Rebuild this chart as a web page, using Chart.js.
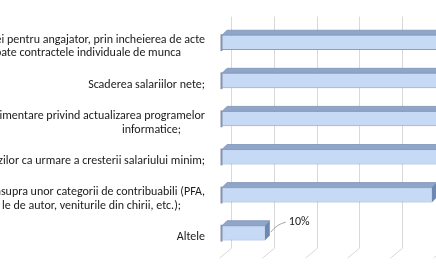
<!DOCTYPE html>
<html>
<head>
<meta charset="utf-8">
<style>
  html, body { margin: 0; padding: 0; background: #fff; overflow: hidden; }
  canvas { display: block; }
</style>
</head>
<body>
<script src="https://cdn.jsdelivr.net/npm/chart.js@4.4.0/dist/chart.umd.min.js"></script>
<canvas id="chart" width="436" height="271"></canvas>
<script>
// category labels (the left part is cut off in the original picture)
const categories = [
    ["ei pentru angajator, prin incheierea de acte", "pate contractele individuale de munca"],
    ["Scaderea salariilor nete;"],
    ["imentare privind actualizarea programelor", "informatice;"],
    ["zilor ca urmare a cresterii salariului minim;"],
    ["asupra unor categorii de contribuabili (PFA,", "le de autor, veniturile din chirii, etc.);"],
    ["Altele"]
];
// percent of answers; the first four run past the right edge, so they are guesses
const values = [72, 68, 57, 61, 49, 10];
const xTicks = [0, 10, 20, 30, 40, 50];

const FONT = "Carlito, Lato, 'Liberation Sans', sans-serif";
const DEPTH = 5;      // bar depth
const WALL = 9;       // depth of the back wall

var ctx = document.getElementById("chart").getContext("2d");

function faceGradient(context) {
    var el = context.element;
    var c = context.chart.ctx;
    if (!el || el.y === undefined) return "#c6d9f5";
    var h = el.height || 15;
    var g = c.createLinearGradient(0, el.y - h / 2, 0, el.y + h / 2);
    g.addColorStop(0, "#e9f1fd");
    g.addColorStop(0.5, "#cddff8");
    g.addColorStop(1, "#a9c4ee");
    return g;
}

// back wall grid + floor lines
const gridPlugin = {
    id: "grid3d",
    beforeDatasetsDraw(chart) {
        var c = chart.ctx, xs = chart.scales.x, area = chart.chartArea;
        c.save();
        c.strokeStyle = "#d9d9d9";
        c.lineWidth = 1;
        xTicks.forEach(function(v) {
            var x = Math.round(xs.getPixelForValue(v) + WALL) + 0.5;
            c.beginPath();
            c.moveTo(x, area.top - 7);
            c.lineTo(x, area.bottom - 4);
            c.lineTo(x - 12, area.bottom + 6);
            c.stroke();
        });
        c.restore();
    }
};

// top face, end face and the data label of each bar
const barPlugin = {
    id: "bar3d",
    afterDatasetsDraw(chart) {
        var c = chart.ctx;
        var meta = chart.getDatasetMeta(0);
        c.save();
        meta.data.forEach(function(el, i) {
            var x0 = el.base, x1 = el.x, top = el.y - el.height / 2, bot = el.y + el.height / 2;
            // top face
            c.fillStyle = "#90a6c8";
            c.beginPath();
            c.moveTo(x0, top);
            c.lineTo(x0 + DEPTH, top - DEPTH);
            c.lineTo(x1 + DEPTH, top - DEPTH);
            c.lineTo(x1, top);
            c.closePath();
            c.fill();
            c.strokeStyle = "#7c92b7";
            c.lineWidth = 0.8;
            c.stroke();
            // end face
            c.fillStyle = "#6f88b1";
            c.beginPath();
            c.moveTo(x1, top);
            c.lineTo(x1 + DEPTH, top - DEPTH);
            c.lineTo(x1 + DEPTH, bot - DEPTH);
            c.lineTo(x1, bot);
            c.closePath();
            c.fill();
            // dark left edge
            c.strokeStyle = "#8593ab";
            c.lineWidth = 2;
            c.beginPath();
            c.moveTo(x0 - 0.5, top - 1);
            c.lineTo(x0 - 0.5, bot + 1);
            c.stroke();
            // data label with leader line
            var lx = x1 + DEPTH + 1, ly = el.y - 1;
            c.strokeStyle = "#8c8c8c";
            c.lineWidth = 0.8;
            c.beginPath();
            c.moveTo(lx, ly);
            c.quadraticCurveTo(lx + 6, ly - 8, lx + 15, ly - 10);
            c.stroke();
            c.fillStyle = "#1a1a1a";
            c.font = "12px " + FONT;
            c.textAlign = "left";
            c.textBaseline = "middle";
            c.fillText(values[i] + "%", lx + 18, ly - 10);
        });
        c.restore();
    }
};

// category labels: first line right aligned, wrapped line set in a little
const labelPlugin = {
    id: "catLabels",
    afterDraw(chart) {
        var c = chart.ctx, ys = chart.scales.y, area = chart.chartArea;
        var right = area.left - 17;
        var lh = 13.5;
        c.save();
        c.fillStyle = "#1a1a1a";
        c.font = "12px " + FONT;
        c.textAlign = "right";
        c.textBaseline = "middle";
        categories.forEach(function(lines, i) {
            var y = ys.getPixelForTick(i) + 4 - (lines.length - 1) * lh / 2;
            lines.forEach(function(t, k) {
                c.fillText(t, right - (k > 0 ? 24 : 0), y + k * lh);
            });
        });
        c.restore();
    }
};

var chart = new Chart(ctx, {
    type: "bar",
    data: {
        labels: categories,
        datasets: [{
            data: values,
            backgroundColor: faceGradient,
            borderColor: "#83a0cf",
            borderWidth: { top: 0, left: 0, right: 0, bottom: 1 },
            borderSkipped: false,
            barPercentage: 0.39,
            categoryPercentage: 1
        }]
    },
    options: {
        indexAxis: "y",
        responsive: false,
        animation: false,
        layout: { padding: { top: 23.6, bottom: 18.8, left: 0, right: 0 } },
        plugins: { legend: { display: false }, tooltip: { enabled: false } },
        scales: {
            x: {
                display: false,
                min: 0,
                max: 50
            },
            y: {
                display: true,
                grid: { display: false },
                border: { display: false },
                ticks: { display: false },
                afterFit: function(scale) { scale.width = 222; }
            }
        }
    },
    plugins: [gridPlugin, barPlugin, labelPlugin]
});
</script>
</body>
</html>
